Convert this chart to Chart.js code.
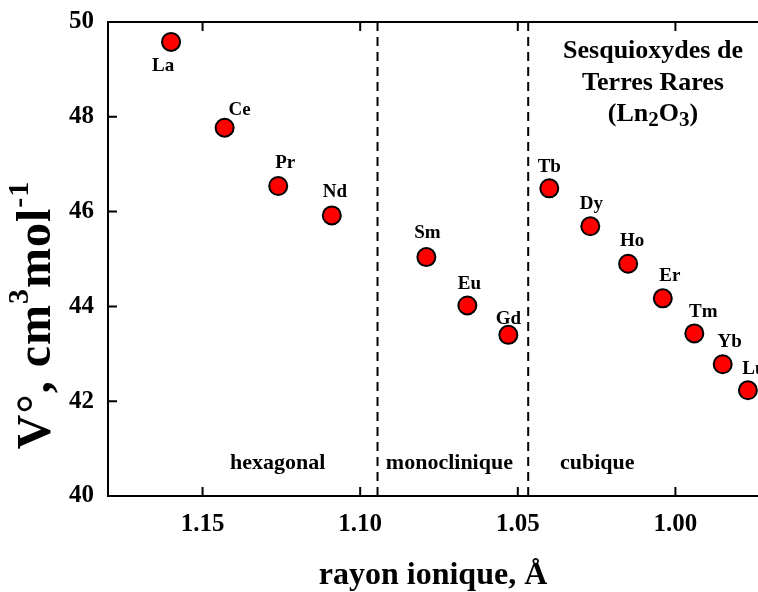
<!DOCTYPE html>
<html>
<head>
<meta charset="utf-8">
<script src="https://cdn.jsdelivr.net/npm/chart.js@4/dist/chart.umd.min.js"></script>
<style>
html, body { margin: 0; padding: 0; background: #fff; }
#wrap { width: 758px; height: 592px; }
</style>
</head>
<body>
<div id="wrap"><canvas id="chart"></canvas></div>
<script>
// Ln2O3 molar volume vs ionic radius
const elements = ['La', 'Ce', 'Pr', 'Nd', 'Sm', 'Eu', 'Gd', 'Tb', 'Dy', 'Ho', 'Er', 'Tm', 'Yb', 'Lu'];
const radii = [1.160, 1.143, 1.126, 1.109, 1.079, 1.066, 1.053, 1.040, 1.027, 1.015, 1.004, 0.994, 0.985, 0.977];
const volumes = [49.58, 47.77, 46.54, 45.92, 45.04, 44.02, 43.40, 46.49, 45.69, 44.90, 44.17, 43.43, 42.78, 42.23];
const xTicks = [1.15, 1.10, 1.05, 1.00];
const yTicks = [40, 42, 44, 46, 48, 50];
const phaseBounds = [1.0945, 1.0467];
const phaseNames = ['hexagonal', 'monoclinique', 'cubique'];

const FONT = "'Liberation Serif', 'Times New Roman', serif";

// label offsets in px (dx, dy) relative to each point
const labelOffsets = [[-8, 24], [15, -18], [7, -23], [3, -23], [1, -24], [2, -21], [0, -16],
  [0, -21], [1, -22], [4, -23], [7, -22], [9, -21], [7, -22], [6, -21]];

const decor = {
  id: 'decor',
  afterDatasetsDraw(chart) {
    const { ctx, chartArea: a, scales: { x, y } } = chart;
    ctx.save();
    ctx.strokeStyle = '#000';
    ctx.lineWidth = 2;

    // top frame line
    ctx.beginPath();
    ctx.moveTo(a.left, a.top);
    ctx.lineTo(a.right, a.top);
    ctx.stroke();

    // inside ticks
    ctx.beginPath();
    xTicks.forEach(v => {
      const px = x.getPixelForValue(v);
      ctx.moveTo(px, a.bottom); ctx.lineTo(px, a.bottom - 9);
      ctx.moveTo(px, a.top); ctx.lineTo(px, a.top + 9);
    });
    yTicks.forEach(v => {
      const py = y.getPixelForValue(v);
      ctx.moveTo(a.left, py); ctx.lineTo(a.left + 9, py);
    });
    ctx.stroke();

    // phase boundaries
    ctx.setLineDash([9, 6]);
    phaseBounds.forEach(v => {
      const px = x.getPixelForValue(v);
      ctx.beginPath();
      ctx.moveTo(px, a.top);
      ctx.lineTo(px, a.bottom);
      ctx.stroke();
    });
    ctx.setLineDash([]);

    ctx.fillStyle = '#000';
    ctx.textAlign = 'center';
    ctx.textBaseline = 'middle';

    // phase names
    ctx.font = 'bold 22px ' + FONT;
    const phaseX = [1.1262, 1.0717, 1.0248];
    phaseNames.forEach((n, i) => {
      ctx.fillText(n, x.getPixelForValue(phaseX[i]), y.getPixelForValue(40.68));
    });

    // element labels
    ctx.font = 'bold 19px ' + FONT;
    const meta = chart.getDatasetMeta(0);
    meta.data.forEach((pt, i) => {
      ctx.fillText(elements[i], pt.x + labelOffsets[i][0], pt.y + labelOffsets[i][1]);
    });

    // title box
    ctx.font = 'bold 26px ' + FONT;
    const cx = 653;
    ctx.fillText('Sesquioxydes de', cx, 51);
    ctx.fillText('Terres Rares', cx, 83);
    // (Ln2O3) with subscripts
    const parts = [['(Ln', 0, 26], ['2', 7, 21], ['O', 0, 26], ['3', 7, 21], [')', 0, 26]];
    let w = 0;
    parts.forEach(p => { ctx.font = 'bold ' + p[2] + 'px ' + FONT; w += ctx.measureText(p[0]).width; });
    let sx = cx - w / 2;
    ctx.textAlign = 'left';
    parts.forEach(p => {
      ctx.font = 'bold ' + p[2] + 'px ' + FONT;
      ctx.fillText(p[0], sx, 114 + p[1]);
      sx += ctx.measureText(p[0]).width;
    });

    // y axis title, rotated, with superscripts
    ctx.translate(36, 315);
    ctx.rotate(-Math.PI / 2);
    ctx.textBaseline = 'alphabetic';
    ctx.letterSpacing = '1px';
    const yparts = [['V\u00B0, cm', 0, 48], ['3', -22, 30], ['mol', 0, 48], ['-1', -22, 30]];
    w = 0;
    yparts.forEach(p => { ctx.font = 'bold ' + p[2] + 'px ' + FONT; w += ctx.measureText(p[0]).width; });
    sx = -w / 2;
    yparts.forEach(p => {
      ctx.font = 'bold ' + p[2] + 'px ' + FONT;
      ctx.fillText(p[0], sx, 14 + p[1]);
      sx += ctx.measureText(p[0]).width;
    });
    ctx.restore();
  }
};

new Chart(document.getElementById('chart'), {
  type: 'scatter',
  data: {
    datasets: [{
      data: radii.map((r, i) => ({ x: r, y: volumes[i] })),
      backgroundColor: '#ff0000',
      borderColor: '#000',
      borderWidth: 2,
      pointRadius: 9,
      pointHoverRadius: 9
    }]
  },
  options: {
    responsive: true,
    maintainAspectRatio: false,
    animation: false,
    layout: { autoPadding: false, padding: { top: 22, right: 0, left: 0, bottom: 0 } },
    plugins: { legend: { display: false }, tooltip: { enabled: false } },
    scales: {
      x: {
        type: 'linear',
        reverse: true,
        min: 0.9738,
        max: 1.18,
        afterBuildTicks: s => { s.ticks = xTicks.map(v => ({ value: v })); },
        afterFit: s => { s.height = 96; s.paddingLeft = 0; s.paddingRight = 0; },
        ticks: {
          callback: v => v.toFixed(2),
          color: '#000',
          padding: 14,
          font: { family: FONT, size: 25, weight: 'bold' }
        },
        grid: { drawOnChartArea: false, drawTicks: false },
        border: { display: true, color: '#000', width: 2 },
        title: {
          display: true,
          text: 'rayon ionique, \u00C5',
          color: '#000',
          padding: { top: 0, bottom: -3 },
          font: { family: FONT, size: 32, weight: 'bold' }
        }
      },
      y: {
        min: 40,
        max: 50,
        afterBuildTicks: s => { s.ticks = yTicks.map(v => ({ value: v })); },
        afterFit: s => { s.width = 108; s.paddingTop = 0; s.paddingBottom = 0; },
        ticks: {
          color: '#000',
          padding: 14,
          font: { family: FONT, size: 25, weight: 'bold' }
        },
        grid: { drawOnChartArea: false, drawTicks: false },
        border: { display: true, color: '#000', width: 2 }
      }
    }
  },
  plugins: [decor]
});
</script>
</body>
</html>
